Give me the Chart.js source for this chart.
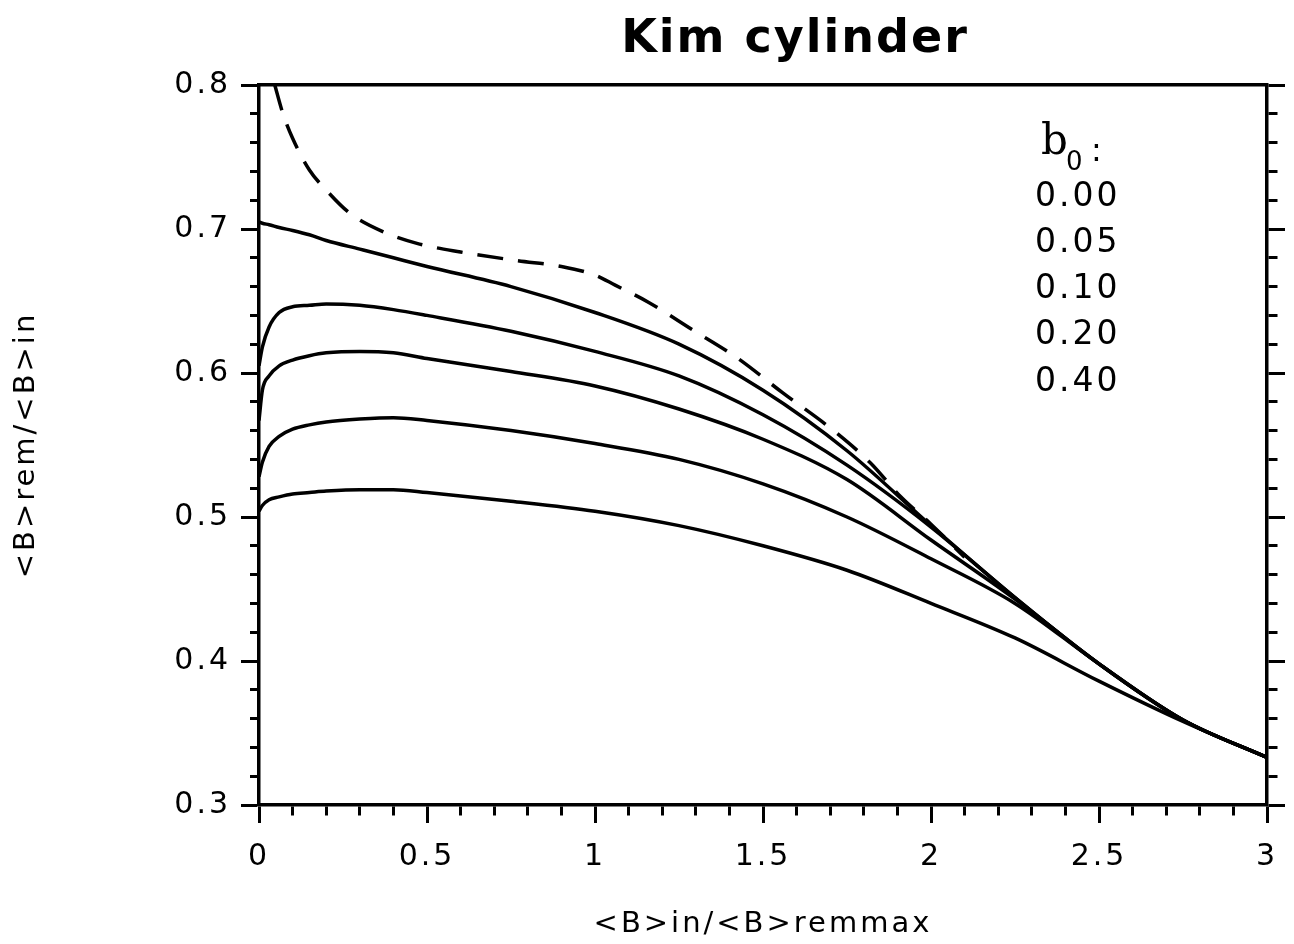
<!DOCTYPE html>
<html>
<head>
<meta charset="utf-8">
<title>Kim cylinder</title>
<script src="https://cdn.jsdelivr.net/npm/chart.js@4.4.0/dist/chart.umd.min.js"></script>
<style>
  html, body { margin: 0; padding: 0; background: #fff; }
  #wrap { width: 1294px; height: 944px; }
</style>
</head>
<body>
<div id="wrap"><canvas id="kimChart" width="1294" height="944"></canvas></div>
<script>

const chartTitle = "Kim cylinder";
const xTitle = "<B>in/<B>remmax";
const yTitle = "<B>rem/<B>in";

const xTickLabels = [0, 0.5, 1, 1.5, 2, 2.5, 3];
const yTickLabels = [0.3, 0.4, 0.5, 0.6, 0.7, 0.8];

// b0 values shown in the legend column
const b0Labels = ["0.00", "0.05", "0.10", "0.20", "0.40"];

const xValues = [0, 0.01, 0.03, 0.06, 0.1, 0.15, 0.2, 0.3, 0.4, 0.5, 0.75, 1.0, 1.25, 1.5, 1.75, 2.0, 2.25, 2.5, 2.75, 3.0];

const b0_000 = [0.705, 0.704, 0.703, 0.701, 0.699, 0.696, 0.692, 0.686, 0.680, 0.674, 0.660, 0.642, 0.620, 0.588, 0.546, 0.494, 0.444, 0.398, 0.359, 0.333];
const b0_005 = [0.605, 0.618, 0.632, 0.642, 0.646, 0.647, 0.648, 0.647, 0.644, 0.640, 0.629, 0.615, 0.598, 0.571, 0.536, 0.493, 0.444, 0.398, 0.359, 0.333];
const b0_010 = [0.567, 0.588, 0.598, 0.605, 0.609, 0.612, 0.614, 0.615, 0.614, 0.610, 0.601, 0.591, 0.575, 0.554, 0.526, 0.484, 0.443, 0.398, 0.359, 0.333];
const b0_020 = [0.528, 0.538, 0.549, 0.556, 0.561, 0.564, 0.566, 0.568, 0.569, 0.567, 0.560, 0.551, 0.540, 0.523, 0.500, 0.471, 0.440, 0.398, 0.359, 0.333];
const b0_040 = [0.504, 0.508, 0.512, 0.514, 0.516, 0.517, 0.518, 0.519, 0.519, 0.517, 0.511, 0.504, 0.494, 0.480, 0.463, 0.440, 0.416, 0.386, 0.358, 0.333];

// dashed curve
const dashX = [0.047, 0.07, 0.1, 0.15, 0.2, 0.27, 0.37, 0.47, 0.6, 0.77, 0.9, 1.0, 1.06, 1.16, 1.29, 1.42, 1.56, 1.71, 1.82, 1.91, 2.0, 2.1];
const dashY = [0.800, 0.781, 0.763, 0.741, 0.727, 0.711, 0.698, 0.690, 0.684, 0.678, 0.674, 0.668, 0.661, 0.649, 0.630, 0.611, 0.586, 0.560, 0.5375, 0.514, 0.495, 0.472];


Chart.defaults.font.family = "'DejaVu Sans', sans-serif";
Chart.defaults.color = "#000";

function toPoints(xs, ys) {
    return xs.map((x, i) => ({ x: x, y: ys[i] }));
}

function isMajor(value, step) {
    const r = value / step;
    return Math.abs(r - Math.round(r)) < 1e-6;
}

function findLabel(list, value) {
    return list.find(t => Math.abs(t - value) < 1e-6);
}

const solidCurves = [b0_000, b0_005, b0_010, b0_020, b0_040];

const datasets = solidCurves.map((ys, i) => ({
    label: b0Labels[i],
    data: toPoints(xValues, ys),
    borderColor: "#000",
    borderWidth: 3.5,
    pointRadius: 0,
    cubicInterpolationMode: "monotone",
    fill: false
}));

datasets.push({
    label: "dashed",
    data: toPoints(dashX, dashY),
    borderColor: "#000",
    borderWidth: 3.5,
    borderDash: [26, 15],
    pointRadius: 0,
    cubicInterpolationMode: "monotone",
    fill: false
});


const textPlugin = {
    id: "kimText",
    beforeDraw(chart) {
        chart.ctx.letterSpacing = "3px";
    },
    afterDraw(chart) {
        const ctx = chart.ctx;
        ctx.save();
        ctx.fillStyle = "#000";

        ctx.letterSpacing = "2px";
        ctx.font = "bold 46px 'DejaVu Sans'";
        ctx.textAlign = "center";
        ctx.textBaseline = "alphabetic";
        ctx.fillText(chartTitle, 795, 52);

        // legend heading: b0:
        ctx.letterSpacing = "0px";
        ctx.textAlign = "left";
        ctx.font = "42px 'DejaVu Serif'";
        ctx.fillText("b", 1041, 154);
        ctx.font = "26px 'DejaVu Sans'";
        ctx.fillText("0", 1066, 170);
        ctx.font = "32px 'DejaVu Sans'";
        ctx.fillText(":", 1091, 161);

        ctx.letterSpacing = "3px";
        ctx.font = "33px 'DejaVu Sans'";
        ctx.textBaseline = "middle";
        b0Labels.forEach((lab, i) => {
            ctx.fillText(lab, 1035, 197 + i * 46.3);
        });
        ctx.restore();
    }
};


function tickGrid(stepMajor, dashOffset) {
    return {
        drawOnChartArea: false,
        drawTicks: true,
        tickLength: 18,
        tickWidth: 3,
        tickColor: "#000",
        tickBorderDash: c => isMajor(c.tick.value, stepMajor) ? [] : [9, 9],
        tickBorderDashOffset: dashOffset
    };
}

new Chart(document.querySelector("#kimChart"), {
    type: "line",
    data: { datasets },
    options: {
        responsive: false,
        animation: false,
        layout: { padding: { top: 85, left: 0, right: 0, bottom: 0 } },
        plugins: {
            legend: { display: false },
            tooltip: { enabled: false },
            title: { display: false }
        },
        scales: {
            x: {
                type: "linear",
                position: "bottom",
                min: 0,
                max: 3,
                grid: tickGrid(0.5, 0),
                border: { color: "#000", width: 3.5 },
                ticks: {
                    stepSize: 0.1,
                    autoSkip: false,
                    maxRotation: 0,
                    padding: 16,
                    font: { size: 30 },
                    callback: v => {
                        const hit = findLabel(xTickLabels, v);
                        return hit === undefined ? "" : String(hit);
                    }
                },
                title: {
                    display: true,
                    text: xTitle,
                    font: { size: 29 },
                    padding: { top: 0, bottom: 2 }
                },
                afterFit: s => { s.height = 139; }
            },
            x2: {
                type: "linear",
                position: "top",
                min: 0,
                max: 3,
                grid: { drawOnChartArea: false, drawTicks: false },
                border: { color: "#000", width: 3.5 },
                ticks: { display: false },
                afterFit: s => { s.height = 0; }
            },
            y: {
                type: "linear",
                position: "left",
                min: 0.3,
                max: 0.8,
                grid: tickGrid(0.1, 9),
                border: { color: "#000", width: 3.5 },
                ticks: {
                    stepSize: 0.02,
                    autoSkip: false,
                    maxTicksLimit: 100,
                    padding: 10,
                    font: { size: 30 },
                    callback: v => {
                        const hit = findLabel(yTickLabels, v);
                        return hit === undefined ? "" : hit.toFixed(1);
                    }
                },
                title: {
                    display: true,
                    text: yTitle,
                    font: { size: 29 },
                    padding: { top: 9, bottom: 0 }
                },
                afterFit: s => { s.width = 259; }
            },
            y2: {
                type: "linear",
                position: "right",
                min: 0.3,
                max: 0.8,
                grid: tickGrid(0.1, 0),
                border: { color: "#000", width: 3.5 },
                ticks: {
                    stepSize: 0.02,
                    autoSkip: false,
                    maxTicksLimit: 100,
                    callback: () => ""
                },
                afterFit: s => { s.width = 27; }
            }
        }
    },
    plugins: [textPlugin]
});
</script>
</body>
</html>
